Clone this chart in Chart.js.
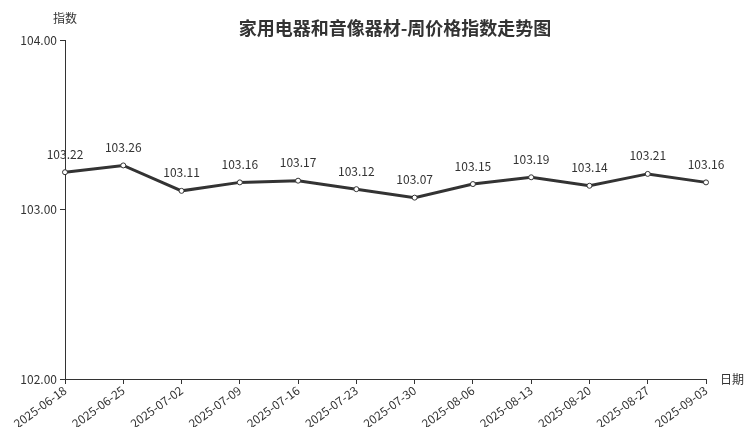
<!DOCTYPE html>
<html>
<head>
<meta charset="utf-8">
<script src="https://cdn.jsdelivr.net/npm/chart.js@4/dist/chart.umd.min.js"></script>
<style>
  html, body { margin: 0; padding: 0; background: #fff; }
  #wrap { width: 752px; height: 427px; }
</style>
</head>
<body>
<div id="wrap"><canvas id="c"></canvas></div>
<script>
const dates = ['2025-06-18', '2025-06-25', '2025-07-02', '2025-07-09', '2025-07-16', '2025-07-23',
               '2025-07-30', '2025-08-06', '2025-08-13', '2025-08-20', '2025-08-27', '2025-09-03'];
const indexValues = [103.22, 103.26, 103.11, 103.16, 103.17, 103.12, 103.07, 103.15, 103.19, 103.14, 103.21, 103.16];
const yTicks = [102, 103, 104];

const FONT = '"Noto Sans CJK SC", "Noto Sans", sans-serif';
const TEXT = '#333';

// value labels, axis names and title
const extras = {
  id: 'extras',
  afterDatasetsDraw(chart) {
    const ctx = chart.ctx;
    const meta = chart.getDatasetMeta(0);
    const area = chart.chartArea;
    ctx.save();
    ctx.fillStyle = TEXT;
    ctx.font = '12px ' + FONT;
    ctx.textAlign = 'center';
    ctx.textBaseline = 'bottom';
    meta.data.forEach((pt, i) => {
      ctx.fillText(indexValues[i].toFixed(2), pt.x, pt.y - 12);
    });
    ctx.textAlign = 'center';
    ctx.textBaseline = 'middle';
    ctx.fillText('指数', area.left, 18);
    ctx.textAlign = 'left';
    ctx.fillText('日期', area.right + 14, area.bottom);
    ctx.font = 'bold 18px ' + FONT;
    ctx.textAlign = 'center';
    ctx.fillText('家用电器和音像器材-周价格指数走势图', 395, 28);
    ctx.restore();
  }
};

new Chart(document.getElementById('c'), {
  type: 'line',
  data: {
    labels: dates,
    datasets: [{
      data: indexValues,
      borderColor: '#333',
      borderWidth: 3,
      pointRadius: 2.5,
      pointBorderWidth: 1,
      pointBackgroundColor: '#fff',
      pointBorderColor: '#333',
      tension: 0
    }]
  },
  options: {
    responsive: true,
    maintainAspectRatio: false,
    animation: false,
    layout: { padding: { top: 40, right: 46, left: 0, bottom: 0 } },
    plugins: { legend: { display: false }, tooltip: { enabled: false } },
    scales: {
      x: {
        offset: false,
        afterFit(axis) { axis.height = 48; },
        grid: { drawOnChartArea: false, drawTicks: true, tickLength: 5, color: TEXT },
        border: { color: TEXT, width: 1 },
        ticks: { color: TEXT, font: { family: FONT, size: 12 }, minRotation: 36, maxRotation: 36, autoSkip: false, padding: -1 }
      },
      y: {
        min: 102,
        max: 104,
        afterFit(axis) { axis.width = 65; },
        afterBuildTicks(axis) { axis.ticks = yTicks.map(v => ({ value: v })); },
        grid: { drawOnChartArea: false, drawTicks: true, tickLength: 5, color: TEXT },
        border: { color: TEXT, width: 1 },
        ticks: { color: TEXT, font: { family: FONT, size: 12 }, padding: 3, callback: v => Number(v).toFixed(2) }
      }
    }
  },
  plugins: [extras]
});
</script>
</body>
</html>
